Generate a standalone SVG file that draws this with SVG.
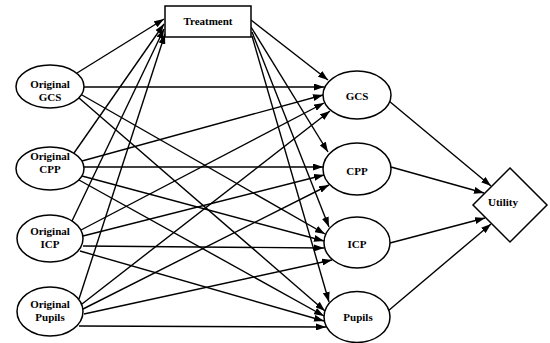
<svg xmlns="http://www.w3.org/2000/svg" width="550" height="343" viewBox="0 0 550 343">
<style>
.n{fill:#fff;stroke:#000;stroke-width:1.5}
.t{font-family:"Liberation Serif",serif;font-weight:bold;font-size:11px;text-anchor:middle;fill:#000}
.e line{stroke:#000;stroke-width:1.4;marker-end:url(#a)}
</style>
<defs>
<marker id="a" markerUnits="userSpaceOnUse" markerWidth="10" markerHeight="7" refX="10" refY="3.5" orient="auto">
<path d="M0,0 L10,3.5 L0,7 z" fill="#000"/>
</marker>
</defs>
<rect width="550" height="343" fill="#fff"/>
<g id="connectors" class="e">
<line x1="77" y1="73" x2="164" y2="19"/>
<line x1="84" y1="87" x2="324" y2="87"/>
<line x1="82" y1="95" x2="325" y2="234"/>
<line x1="79" y1="98" x2="325" y2="311"/>
<line x1="74" y1="153" x2="164" y2="24"/>
<line x1="82" y1="161" x2="323" y2="95"/>
<line x1="84" y1="167" x2="323" y2="167"/>
<line x1="82" y1="176" x2="324" y2="241"/>
<line x1="79" y1="180" x2="324" y2="316"/>
<line x1="72" y1="221" x2="164" y2="29"/>
<line x1="81" y1="230" x2="324" y2="103"/>
<line x1="83" y1="236" x2="324" y2="175"/>
<line x1="83" y1="246" x2="324" y2="248"/>
<line x1="80" y1="251" x2="324" y2="321"/>
<line x1="79" y1="299" x2="165" y2="34"/>
<line x1="82" y1="304" x2="330" y2="111"/>
<line x1="83" y1="309" x2="329" y2="185"/>
<line x1="84" y1="314" x2="332" y2="260"/>
<line x1="79" y1="326" x2="326" y2="327"/>
<line x1="251" y1="20" x2="328" y2="80"/>
<line x1="251" y1="27" x2="328" y2="152"/>
<line x1="252" y1="32" x2="329" y2="227"/>
<line x1="252" y1="36" x2="329" y2="302"/>
<line x1="389" y1="101" x2="491" y2="186"/>
<line x1="391" y1="167" x2="484" y2="193"/>
<line x1="390" y1="243" x2="485" y2="218"/>
<line x1="388" y1="311" x2="491" y2="224"/>
</g>
<g id="treatment"><rect class="n" x="165" y="6" width="86" height="31"/><text class="t" x="208" y="25">Treatment</text></g>
<g id="orig-gcs"><ellipse class="n" cx="50" cy="86.5" rx="34" ry="21.5"/><text class="t" x="50" y="88">Original</text><text class="t" x="50" y="101">GCS</text></g>
<g id="orig-cpp"><ellipse class="n" cx="50" cy="168.5" rx="34" ry="21.5"/><text class="t" x="50" y="160">Original</text><text class="t" x="50" y="173">CPP</text></g>
<g id="orig-icp"><ellipse class="n" cx="50" cy="238.5" rx="33" ry="23.5"/><text class="t" x="50" y="235">Original</text><text class="t" x="50" y="248">ICP</text></g>
<g id="orig-pupils"><ellipse class="n" cx="50" cy="311.5" rx="33" ry="24.5"/><text class="t" x="50" y="308">Original</text><text class="t" x="50" y="321">Pupils</text></g>
<g id="gcs"><ellipse class="n" cx="357" cy="95" rx="34" ry="24"/><text class="t" x="357" y="100">GCS</text></g>
<g id="cpp"><ellipse class="n" cx="357" cy="169" rx="34" ry="26"/><text class="t" x="357" y="175">CPP</text></g>
<g id="icp"><ellipse class="n" cx="357" cy="242.5" rx="33" ry="25.5"/><text class="t" x="357" y="248">ICP</text></g>
<g id="pupils"><ellipse class="n" cx="357" cy="317" rx="33" ry="25.5"/><text class="t" x="358" y="321">Pupils</text></g>
<g id="utility"><polygon class="n" points="510,168 547,205 510,242 473,205"/><text class="t" x="503" y="206">Utility</text></g>
</svg>
